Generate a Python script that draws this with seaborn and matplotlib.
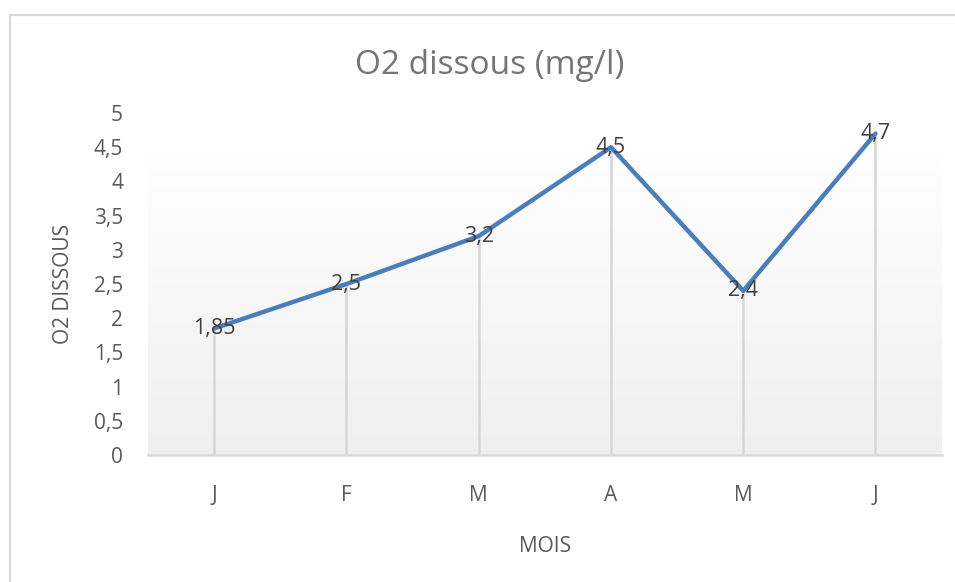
import numpy as np
import pandas as pd
import matplotlib.pyplot as plt
import seaborn as sns
from matplotlib.patches import Rectangle

# donnees O2 dissous par mois
mois = ['J', 'F', 'M', 'A', 'M', 'J']
o2 = [1.85, 2.5, 3.2, 4.5, 2.4, 4.7]
etiquettes = ['1,85', '2,5', '3,2', '4,5', '2,4', '4,7']
y_ticks = [0, 0.5, 1, 1.5, 2, 2.5, 3, 3.5, 4, 4.5, 5]
y_labels = ['0', '0,5', '1', '1,5', '2', '2,5', '3', '3,5', '4', '4,5', '5']

sns.set_style('white')
plt.rcParams['font.family'] = ['Open Sans', 'DejaVu Sans']

df = pd.DataFrame({'pos': np.arange(len(mois)), 'o2': o2})

fig = plt.figure(figsize=(9.55, 5.82), dpi=100)
ax = fig.add_axes([0.155, 0.2182, 0.831, 0.5876])

# cadre gris du graphique (haut et gauche visibles)
fig.patches.append(Rectangle((10 / 955, -0.1), 1.2, 1 - 15 / 582 + 0.1, transform=fig.transFigure,
                             fill=False, edgecolor='#d9d9d9', linewidth=1.6, zorder=0))

# fond en degrade
grad = np.linspace(0, 1, 256).reshape(-1, 1)
ax.imshow(grad, extent=[-0.5, len(mois) - 0.5, 0, 4.43], aspect='auto', origin='lower',
          cmap=sns.blend_palette(['#efefef', '#ffffff'], as_cmap=True), zorder=0)

# lignes de projection
ax.vlines(df['pos'], 0, df['o2'], color='#d6d6d6', linewidth=1.8, zorder=1)

sns.lineplot(data=df, x='pos', y='o2', ax=ax, color='#4a7ebb', linewidth=3.2, sort=False, zorder=3)

for x, y, t in zip(df['pos'], df['o2'], etiquettes):
    ax.text(x, y, t, ha='center', va='center', fontsize=15.5, color='#404040', zorder=4)

ax.set_xlim(-0.5, len(mois) - 0.5)
ax.set_ylim(0, 5)
ax.set_xticks(df['pos'])
ax.set_xticklabels(mois)
ax.set_yticks(y_ticks)
ax.set_yticklabels(y_labels)
ax.tick_params(axis='both', length=0, labelsize=15, labelcolor='#595959')
ax.tick_params(axis='x', pad=21.5)
ax.tick_params(axis='y', pad=18)

for s in ['top', 'right', 'left']:
    ax.spines[s].set_visible(False)
ax.spines['bottom'].set_color('#d9d9d9')
ax.spines['bottom'].set_linewidth(1.8)
ax.patch.set_alpha(0)

ax.set_xlabel('MOIS', fontsize=15, color='#595959', labelpad=22)
ax.set_ylabel('O2 DISSOUS', fontsize=15, color='#595959', labelpad=14)
fig.text(0.513, 1 - 65 / 582, 'O2 dissous (mg/l)', ha='center', va='center', fontsize=24, color='#757575')

plt.savefig('out.png', dpi=100)
